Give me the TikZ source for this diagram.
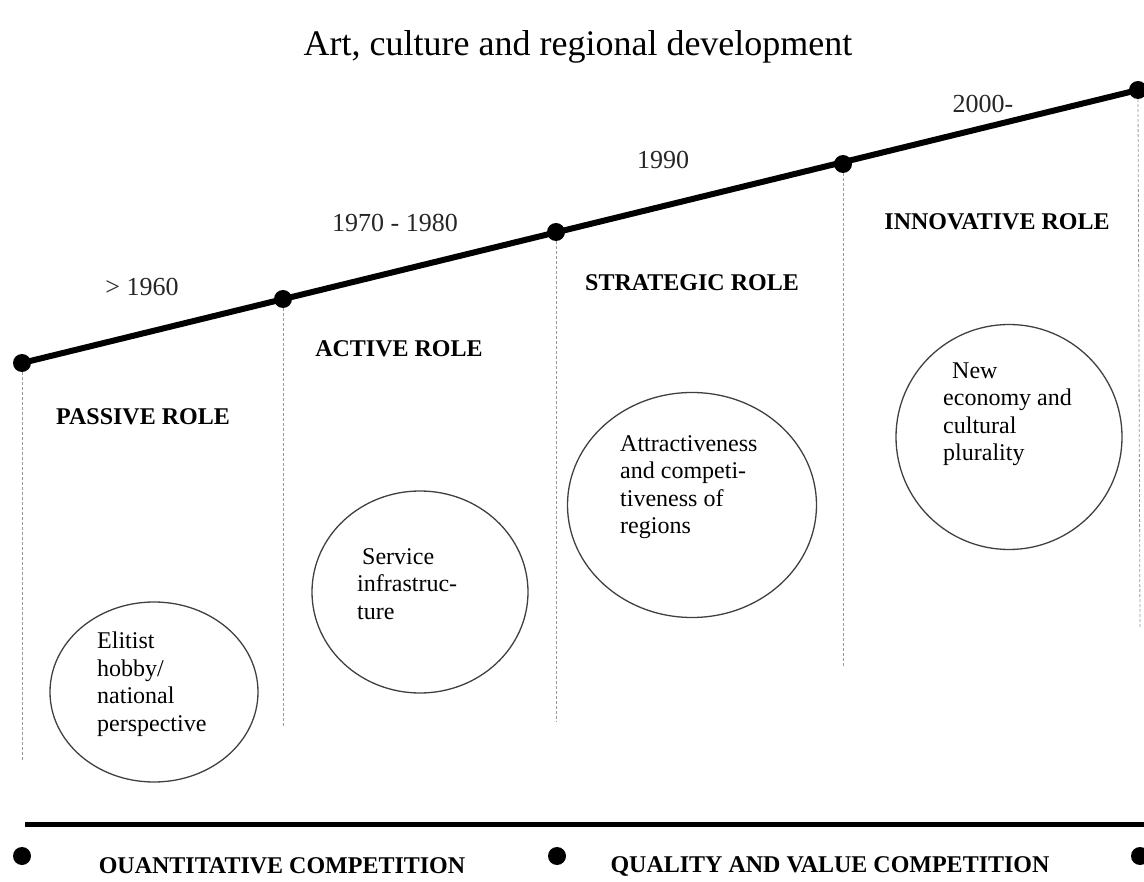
\documentclass[tikz,border=0pt]{standalone}
\usepackage{fontspec}
\setmainfont{Liberation Serif}
\usetikzlibrary{shapes.geometric}

\tikzset{
  headtext/.style = {font=\fontsize{36}{40}\selectfont},
  yeartext/.style = {font=\fontsize{26}{30}\selectfont, text=black!85},
  roletext/.style = {font=\fontsize{24}{28}\selectfont\bfseries},% rolle
  bubble/.style = {ellipse, draw=black!75, line width=1.3pt, inner sep=0pt},
  bubbletext/.style = {align=left, anchor=west, inner sep=0pt,
    font=\fontsize{24}{27.5}\selectfont},% text in the circles
  milestone/.style = {circle, fill=black, inner sep=0pt, minimum size=18pt},
  guide/.style = {draw=black!40, line width=0.8pt, densely dashed},
  timeline/.style = {line width=6pt}
}

\begin{document}
\begin{tikzpicture}[x=1pt, y=-1pt]
\useasboundingbox (0,0) rectangle (1144,882);

\node [headtext] (title) at (578,47) {Art, culture and regional development};

% upper line with the periods
\node [milestone] (d1) at (22,363) {};
\node [milestone] (d2) at (283,299) {};
\node [milestone] (d3) at (556,232) {};
\node [milestone] (d4) at (843,164) {};
\node [milestone] (d5) at (1138,90) {};
\draw [timeline] (d1.center) -- (d5.center);

\coordinate (e1) at (22,760);
\coordinate (e2) at (283,727);
\coordinate (e3) at (556,722);
\coordinate (e4) at (843,667);
\coordinate (e5) at (1140,628);
\foreach \i in {1,...,5}
  \draw [guide] (d\i.south) -- (e\i);

\node [yeartext] (y1) at (142,287) {> 1960};
\node [yeartext] (y2) at (395,223) {1970 - 1980};
\node [yeartext] (y3) at (663,160) {1990};
\node [yeartext] (y4) at (983,104) {2000-};

\node [roletext] (r1) at (143,417) {PASSIVE ROLE};
\node [roletext] (r2) at (399,349) {ACTIVE ROLE};
\node [roletext] (r3) at (692,283) {STRATEGIC ROLE};
\node [roletext] (r4) at (997,222) {INNOVATIVE ROLE};

% circles
\node [bubble, minimum width=208pt, minimum height=180pt] (c1) at (154,692) {};
\node [bubble, minimum width=216pt, minimum height=202pt] (c2) at (420,592) {};
\node [bubble, minimum width=249pt, minimum height=225pt] (c3) at (692,505) {};
\node [bubble, minimum width=226pt, minimum height=225pt] (c4) at (1009,437) {};

\node [bubbletext] (t1) at (97,684) {Elitist\\hobby/\\national\\perspective};
\node [bubbletext] (t2) at (357,584) {\hspace{5pt}Service\\infrastruc-\\ture};
\node [bubbletext] (t3) at (620,487) {Attractiveness\\and competi-\\tiveness of\\regions};
\node [bubbletext] (t4) at (943,414) {\hspace{9pt}New\\economy and\\cultural\\plurality};

% lower line
\coordinate (b1) at (25,824);
\coordinate (b2) at (1144,824);
\draw [line width=5pt] (b1) -- (b2);

\node [milestone] (q1) at (22,856) {};
\node [milestone] (q2) at (557,856) {};
\node [milestone] (q3) at (1140,856) {};

\node [roletext] (k1) at (282,866) {OUANTITATIVE COMPETITION};
\node [roletext] (k2) at (830,866) {QUALITY AND VALUE COMPETITION};
\end{tikzpicture}
\end{document}
